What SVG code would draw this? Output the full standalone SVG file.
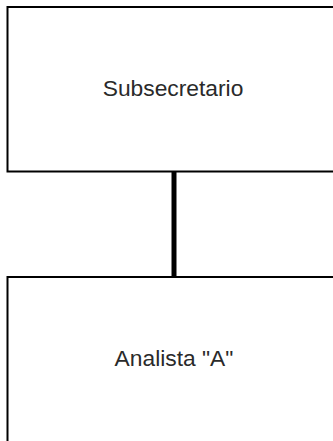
<svg xmlns="http://www.w3.org/2000/svg" width="333" height="441" viewBox="0 0 333 441">
<style>
.box{fill:#fff;stroke:#000;stroke-width:2}
.lbl{font-family:"Liberation Sans",Arial,sans-serif;font-size:22.8px;fill:#2a2a2a;text-anchor:middle}
.conn{stroke:#000;stroke-width:5;fill:none}
</style>
<rect width="333" height="441" fill="#fff"/>
<g id="connectors">
<line class="conn" x1="174" y1="172" x2="174" y2="277"/>
</g>
<g id="node-subsecretario">
<rect class="box" x="7.5" y="7" width="333" height="164.5"/>
<text class="lbl" x="173" y="96">Subsecretario</text>
</g>
<g id="node-analista">
<rect class="box" x="7.5" y="277" width="333" height="165"/>
<text class="lbl" x="174" y="366">Analista "A"</text>
</g>
</svg>
